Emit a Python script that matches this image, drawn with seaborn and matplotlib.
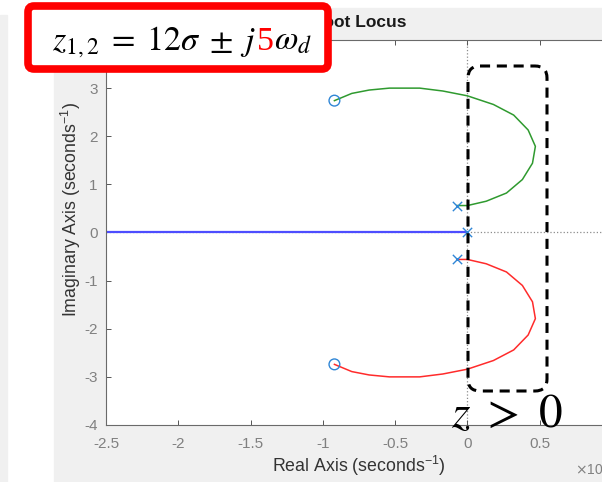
import numpy as np
import pandas as pd
import matplotlib
matplotlib.use("Agg")
import matplotlib.pyplot as plt
import matplotlib.transforms as mtransforms
from matplotlib.patches import Rectangle, FancyBboxPatch
import seaborn as sns

# ramas del lugar de las raices
up_re = [-0.92, -0.80, -0.68, -0.54, -0.33, -0.17, 0.00, 0.18, 0.32, 0.42, 0.47, 0.45, 0.38, 0.27, 0.13, 0.00, -0.074]
up_im = [2.74, 2.89, 2.96, 3.00, 3.00, 2.94, 2.84, 2.66, 2.44, 2.13, 1.79, 1.44, 1.10, 0.82, 0.65, 0.56, 0.56]
low_re = [-0.92, -0.80, -0.68, -0.54, -0.33, -0.17, 0.00, 0.18, 0.32, 0.42, 0.47, 0.45, 0.38, 0.27, 0.13, 0.00, -0.074]
low_im = [-2.74, -2.89, -2.96, -3.00, -3.00, -2.94, -2.84, -2.66, -2.44, -2.13, -1.79, -1.44, -1.10, -0.82, -0.65, -0.56, -0.56]
real_re = [0.0, -2.5]
real_im = [0.0, 0.0]

# polos y ceros
poles_re = [0.0, -0.074, -0.074]
poles_im = [0.0, 0.56, -0.56]
zeros_re = [-0.92, -0.92]
zeros_im = [2.74, -2.74]

xticks = [-2.5, -2, -1.5, -1, -0.5, 0, 0.5]
xticklabels = ["-2.5", "-2", "-1.5", "-1", "-0.5", "0", "0.5"]
yticks = [-4, -3, -2, -1, 0, 1, 2, 3]
yticklabels = ["-4", "-3", "-2", "-1", "0", "1", "2", "3"]

plt.rcParams['font.family'] = ['Liberation Sans', 'DejaVu Sans']
plt.rcParams['mathtext.default'] = 'it'

W, H = 602, 482
fig = plt.figure(figsize=(W / 100, H / 100), dpi=100, facecolor='white')
px = mtransforms.Affine2D().scale(1 / W, -1 / H).translate(0, 1) + fig.transFigure

# fondo gris de la ventana
fig.add_artist(Rectangle((54, 8), W - 54, H - 8, transform=px, color='#f0f0f0', zorder=-5))
fig.add_artist(Rectangle((0, 15), 7, H - 15, transform=px, color='#f0f0f0', zorder=-5))

ax = fig.add_axes([106 / W, (H - 425) / H, 506 / W, 385 / H])
ax.set_facecolor('white')

ax.axvline(0, ls=':', color='#8c8c8c', lw=0.9, zorder=1)
ax.axhline(0, ls=':', color='#8c8c8c', lw=0.9, zorder=1)

sns.lineplot(x=real_re, y=real_im, sort=False, estimator=None, color='#4d4dff', lw=1.6, ax=ax, zorder=2)
sns.lineplot(x=up_re, y=up_im, sort=False, estimator=None, color='#2f9a2f', lw=1.1, ax=ax, zorder=2)
sns.lineplot(x=low_re, y=low_im, sort=False, estimator=None, color='#ff2b2b', lw=1.1, ax=ax, zorder=2)

sns.scatterplot(x=poles_re, y=poles_im, marker='x', color='#2f86d6', s=45, linewidth=1.0, ax=ax, zorder=3)
sns.scatterplot(x=zeros_re, y=zeros_im, marker='o', facecolor='none', edgecolor='#2f86d6', s=60, linewidth=1.0, ax=ax, zorder=3)

ax.set_xlim(-2.5, 1.0)
ax.set_ylim(-4, 4)
ax.set_xticks(xticks)
ax.set_xticklabels(xticklabels)
ax.set_yticks(yticks)
ax.set_yticklabels(yticklabels)
ax.tick_params(direction='in', length=3.5, width=0.7, colors='#555555', labelcolor='#808080',
               labelsize=11, top=True)
ax.tick_params(axis='x', pad=9)
ax.tick_params(axis='y', pad=6)
for s in ax.spines.values():
    s.set_color('#6a6a6a')
    s.set_linewidth(0.8)

ax.set_title('Root Locus', fontsize=12.5, fontweight='bold', color='#1a1a1a', pad=9)
ax.set_xlabel(r'Real Axis (seconds$^{\mathregular{-1}}$)', fontsize=12.8, color='#333333')
ax.set_ylabel(r'Imaginary Axis (seconds$^{\mathregular{-1}}$)', fontsize=12.8, color='#333333')
ax.xaxis.set_label_coords(0.5, -0.076)
ax.yaxis.set_label_coords(-0.045, 0.561)

fig.text(575, 470, r'$\times$10', transform=px, fontsize=10, color='#808080', va='center', ha='left')

# recuadro rojo con la ecuacion
fig.add_artist(FancyBboxPatch((28, 6), 300, 63, boxstyle='round,pad=0,rounding_size=6',
                              transform=px, fc='white', ec='#ff0000', lw=5.5, zorder=5))
t1 = fig.text(52, 50, r'$z_{1,2}\;=\;12\sigma\;\pm\;j$', transform=px, fontsize=24.5,
              math_fontfamily='stix', va='baseline', ha='left', zorder=6)
fig.canvas.draw()
x1 = t1.get_window_extent().x1
t2 = fig.text(x1 + 1, 50, '5', transform=px, fontsize=24.5, family='Liberation Serif',
              color='#ff0000', va='baseline', ha='left', zorder=6)
fig.canvas.draw()
x2 = t2.get_window_extent().x1
fig.text(x2, 50, r'$\omega_d$', transform=px, fontsize=24.5, math_fontfamily='stix',
         va='baseline', ha='left', zorder=6)

# recuadro discontinuo y z > 0
fig.add_artist(FancyBboxPatch((468, 66), 79, 325, boxstyle='round,pad=0,rounding_size=12',
                              transform=px, fc='none', ec='black', lw=2.2, ls=(0, (3.3, 2.2)), zorder=5))
fig.text(451, 427, r'$z\ >\ 0$', transform=px, fontsize=34, math_fontfamily='stix',
         va='baseline', ha='left', zorder=6)

fig.savefig('out.png', dpi=100)
